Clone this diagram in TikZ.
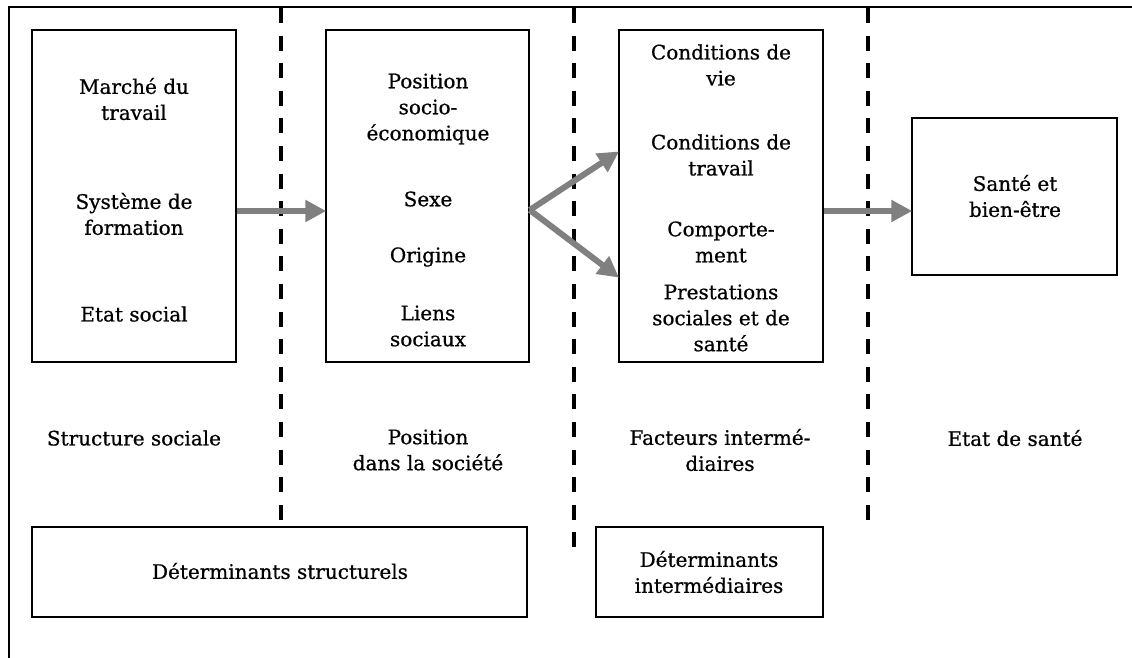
\documentclass[tikz,border=0pt]{standalone}
\usepackage{fontspec}
\setmainfont{DejaVu Serif}[FakeBold=0.7]
\usetikzlibrary{arrows.meta}
\definecolor{arrowgray}{RGB}{128,128,128}
\tikzset{
  box/.style={draw=black, line width=1.5pt, inner sep=0pt},
  txt/.style={font=\fontsize{20}{26}\selectfont, align=center, inner sep=0pt, anchor=center},
  sep/.style={draw=black, line width=3.5pt, dash pattern=on 15pt off 12.6pt},
  flow/.style={draw=arrowgray, line width=6pt, -{Triangle[length=21pt,width=21pt]}, shorten >=-1pt},
}
\begin{document}
\begin{tikzpicture}[x=1pt,y=-1pt]
\useasboundingbox (0,0) rectangle (1132,658);
% outer frame (top and left)
\coordinate (fo) at (9,7);
\coordinate (fr) at (1132,7);
\coordinate (fb) at (9,658);
\draw[line width=2pt] (fr) -- (fo) -- (fb);
% dashed separators
\coordinate (s1a) at (281,8); \coordinate (s1b) at (281,521);
\coordinate (s2a) at (574,8); \coordinate (s2b) at (574,549);
\coordinate (s3a) at (868,8); \coordinate (s3b) at (868,521);
\draw[sep] (s1a) -- (s1b);
\draw[sep] (s2a) -- (s2b);
\draw[sep] (s3a) -- (s3b);
% boxes
\node[box, minimum width=204pt, minimum height=332pt] (b1) at (134,196) {};
\node[box, minimum width=203pt, minimum height=332pt] (b2) at (427.5,196) {};
\node[box, minimum width=204pt, minimum height=332pt] (b3) at (721,196) {};
\node[box, minimum width=205pt, minimum height=157pt] (b4) at (1014.5,196.5) {};
\node[box, minimum width=495pt, minimum height=90pt] (d1) at (279.5,572) {};
\node[box, minimum width=227pt, minimum height=90pt] (d2) at (709.5,572) {};
% box 1 text
\node[txt] (t11) at (134,99) {Marché du\\travail};
\node[txt] (t12) at (134,214) {Système de\\formation};
\node[txt] (t13) at (134,314) {Etat social};
% box 2 text
\node[txt] (t21) at (428,109) {Position\\socio-\\économique};
\node[txt] (t22) at (428,199) {Sexe};
\node[txt] (t23) at (428,257) {Origine};
\node[txt] (t24) at (428,326) {Liens\\sociaux};
% box 3 text
\node[txt] (t31) at (721,65) {Conditions de\\vie};
\node[txt] (t32) at (721,155) {Conditions de\\travail};
\node[txt] (t33) at (721,242) {Comporte-\\ment};
\node[txt] (t34) at (721,318) {Prestations\\sociales et de\\santé};
% box 4 text
\node[txt] (t41) at (1015,196) {Santé et\\bien-être};
% column labels
\node[txt] (l1) at (134,438) {Structure sociale};
\node[txt] (l2) at (428,450) {Position\\dans la société};
\node[txt] (l3) at (720,450) {Facteurs intermé-\\diaires};
\node[txt] (l4) at (1015,438) {Etat de santé};
% bottom texts
\node[txt] (dt1) at (280,571) {Déterminants structurels};
\node[txt] (dt2) at (709,572) {Déterminants\\intermédiaires};
% arrows
\draw[flow] ([yshift=-15pt]b1.east) -- ([yshift=-15pt]b2.west);
\draw[flow] ([yshift=-14pt]b2.east) -- ([yshift=44pt]b3.west);
\draw[flow] ([yshift=-14pt]b2.east) -- ([yshift=-81pt]b3.west);
\draw[flow] ([yshift=-15pt]b3.east) -- ([yshift=-14.5pt]b4.west);
\end{tikzpicture}
\end{document}
